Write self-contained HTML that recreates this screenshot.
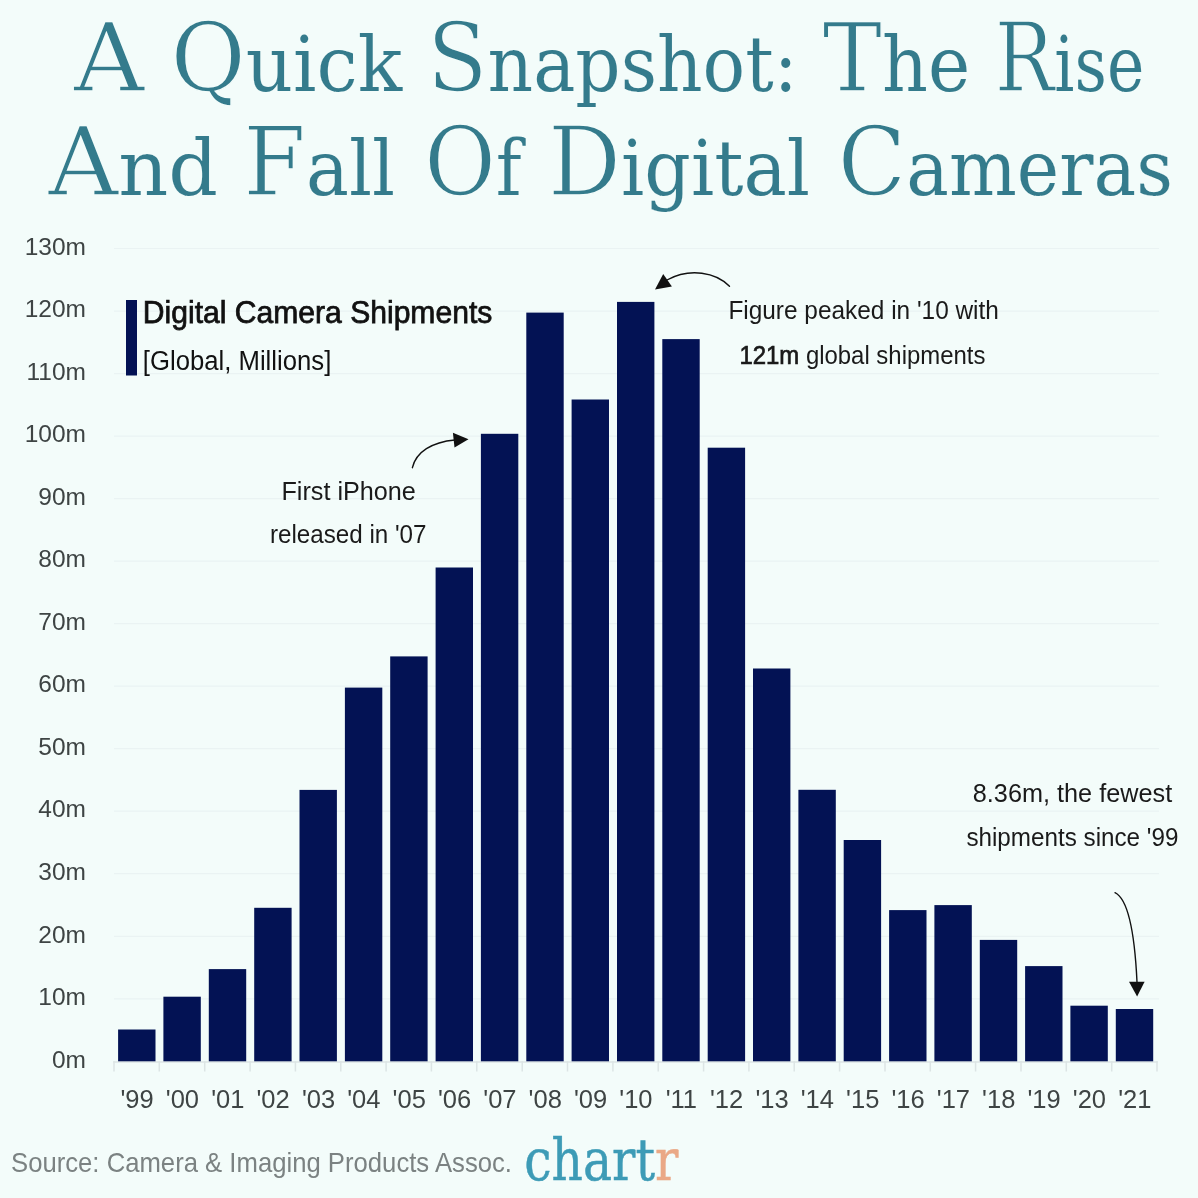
<!DOCTYPE html>
<html lang="en">
<head>
<meta charset="utf-8">
<title>A Quick Snapshot: The Rise And Fall Of Digital Cameras</title>
<style>
html,body{margin:0;padding:0;background:#f3fcfa;}
body{width:1198px;height:1198px;overflow:hidden;}
svg{display:block;}
.sans{font-family:"Liberation Sans",sans-serif;}
.serif{font-family:"Liberation Serif",serif;}
</style>
</head>
<body>
<svg width="1198" height="1198" viewBox="0 0 1198 1198">
<rect width="1198" height="1198" fill="#f3fcfa"/>
<g stroke="#eaf3f3" stroke-width="1.2">
<line x1="114" x2="1159" y1="998.8" y2="998.8"/>
<line x1="114" x2="1159" y1="936.3" y2="936.3"/>
<line x1="114" x2="1159" y1="873.7" y2="873.7"/>
<line x1="114" x2="1159" y1="811.2" y2="811.2"/>
<line x1="114" x2="1159" y1="748.7" y2="748.7"/>
<line x1="114" x2="1159" y1="686.2" y2="686.2"/>
<line x1="114" x2="1159" y1="623.7" y2="623.7"/>
<line x1="114" x2="1159" y1="561.1" y2="561.1"/>
<line x1="114" x2="1159" y1="498.6" y2="498.6"/>
<line x1="114" x2="1159" y1="436.1" y2="436.1"/>
<line x1="114" x2="1159" y1="373.6" y2="373.6"/>
<line x1="114" x2="1159" y1="311.1" y2="311.1"/>
<line x1="114" x2="1159" y1="248.5" y2="248.5"/>
</g>
<g stroke="#dce5e5" stroke-width="1.5">
<line x1="113.2" x2="1157.8" y1="1062.1" y2="1062.1"/>
<line x1="114.0" x2="114.0" y1="1061.3" y2="1071.5"/>
<line x1="159.3" x2="159.3" y1="1061.3" y2="1071.5"/>
<line x1="204.7" x2="204.7" y1="1061.3" y2="1071.5"/>
<line x1="250.1" x2="250.1" y1="1061.3" y2="1071.5"/>
<line x1="295.4" x2="295.4" y1="1061.3" y2="1071.5"/>
<line x1="340.8" x2="340.8" y1="1061.3" y2="1071.5"/>
<line x1="386.1" x2="386.1" y1="1061.3" y2="1071.5"/>
<line x1="431.4" x2="431.4" y1="1061.3" y2="1071.5"/>
<line x1="476.8" x2="476.8" y1="1061.3" y2="1071.5"/>
<line x1="522.2" x2="522.2" y1="1061.3" y2="1071.5"/>
<line x1="567.5" x2="567.5" y1="1061.3" y2="1071.5"/>
<line x1="612.9" x2="612.9" y1="1061.3" y2="1071.5"/>
<line x1="658.2" x2="658.2" y1="1061.3" y2="1071.5"/>
<line x1="703.6" x2="703.6" y1="1061.3" y2="1071.5"/>
<line x1="748.9" x2="748.9" y1="1061.3" y2="1071.5"/>
<line x1="794.2" x2="794.2" y1="1061.3" y2="1071.5"/>
<line x1="839.6" x2="839.6" y1="1061.3" y2="1071.5"/>
<line x1="885.0" x2="885.0" y1="1061.3" y2="1071.5"/>
<line x1="930.3" x2="930.3" y1="1061.3" y2="1071.5"/>
<line x1="975.6" x2="975.6" y1="1061.3" y2="1071.5"/>
<line x1="1021.0" x2="1021.0" y1="1061.3" y2="1071.5"/>
<line x1="1066.3" x2="1066.3" y1="1061.3" y2="1071.5"/>
<line x1="1111.7" x2="1111.7" y1="1061.3" y2="1071.5"/>
<line x1="1157.0" x2="1157.0" y1="1061.3" y2="1071.5"/>
</g>
<g fill="#031254">
<rect x="118.1" y="1029.5" width="37.4" height="31.8"/>
<rect x="163.4" y="996.7" width="37.4" height="64.6"/>
<rect x="208.8" y="969.1" width="37.4" height="92.2"/>
<rect x="254.2" y="907.8" width="37.4" height="153.5"/>
<rect x="299.5" y="789.9" width="37.4" height="271.4"/>
<rect x="344.9" y="687.6" width="37.4" height="373.7"/>
<rect x="390.2" y="656.4" width="37.4" height="404.9"/>
<rect x="435.6" y="567.5" width="37.4" height="493.8"/>
<rect x="480.9" y="433.8" width="37.4" height="627.5"/>
<rect x="526.3" y="312.6" width="37.4" height="748.7"/>
<rect x="571.6" y="399.5" width="37.4" height="661.8"/>
<rect x="617.0" y="301.9" width="37.4" height="759.4"/>
<rect x="662.3" y="339.1" width="37.4" height="722.2"/>
<rect x="707.7" y="447.7" width="37.4" height="613.6"/>
<rect x="753.0" y="668.5" width="37.4" height="392.8"/>
<rect x="798.4" y="789.8" width="37.4" height="271.5"/>
<rect x="843.7" y="840.0" width="37.4" height="221.3"/>
<rect x="889.1" y="910.1" width="37.4" height="151.2"/>
<rect x="934.4" y="905.1" width="37.4" height="156.2"/>
<rect x="979.8" y="939.9" width="37.4" height="121.4"/>
<rect x="1025.1" y="966.1" width="37.4" height="95.2"/>
<rect x="1070.4" y="1005.7" width="37.4" height="55.6"/>
<rect x="1115.8" y="1009.0" width="37.4" height="52.3"/>
</g>
<g class="sans" font-size="24.5" fill="#3e4444" text-anchor="end">
<text x="86" y="1067.5">0m</text>
<text x="86" y="1005.0">10m</text>
<text x="86" y="942.5">20m</text>
<text x="86" y="879.9">30m</text>
<text x="86" y="817.4">40m</text>
<text x="86" y="754.9">50m</text>
<text x="86" y="692.4">60m</text>
<text x="86" y="629.9">70m</text>
<text x="86" y="567.3">80m</text>
<text x="86" y="504.8">90m</text>
<text x="86" y="442.3">100m</text>
<text x="86" y="379.8">110m</text>
<text x="86" y="317.3">120m</text>
<text x="86" y="254.7">130m</text>
</g>
<g class="sans" font-size="25.5" fill="#3e4444" text-anchor="middle">
<text x="137.1" y="1107.7">'99</text>
<text x="182.4" y="1107.7">'00</text>
<text x="227.8" y="1107.7">'01</text>
<text x="273.1" y="1107.7">'02</text>
<text x="318.5" y="1107.7">'03</text>
<text x="363.8" y="1107.7">'04</text>
<text x="409.2" y="1107.7">'05</text>
<text x="454.5" y="1107.7">'06</text>
<text x="499.9" y="1107.7">'07</text>
<text x="545.2" y="1107.7">'08</text>
<text x="590.6" y="1107.7">'09</text>
<text x="635.9" y="1107.7">'10</text>
<text x="681.3" y="1107.7">'11</text>
<text x="726.6" y="1107.7">'12</text>
<text x="772.0" y="1107.7">'13</text>
<text x="817.3" y="1107.7">'14</text>
<text x="862.7" y="1107.7">'15</text>
<text x="908.0" y="1107.7">'16</text>
<text x="953.4" y="1107.7">'17</text>
<text x="998.7" y="1107.7">'18</text>
<text x="1044.1" y="1107.7">'19</text>
<text x="1089.4" y="1107.7">'20</text>
<text x="1134.8" y="1107.7">'21</text>
</g>
<g font-family="DejaVu Serif, serif" font-size="76" fill="#347b8c" stroke="#f3fcfa" stroke-width="0.1">
<text x="73.8" y="91.4" textLength="70.6" lengthAdjust="spacingAndGlyphs"><tspan font-size="95" stroke-width="1.5">A</tspan></text>
<text x="170.4" y="91.4" textLength="231.8" lengthAdjust="spacingAndGlyphs"><tspan font-size="95" stroke-width="1.5">Q</tspan>uick</text>
<text x="426.9" y="91.4" textLength="370.6" lengthAdjust="spacingAndGlyphs"><tspan font-size="95" stroke-width="1.5">S</tspan>napshot:</text>
<text x="822.4" y="91.4" textLength="147.8" lengthAdjust="spacingAndGlyphs"><tspan font-size="95" stroke-width="1.5">T</tspan>he</text>
<text x="994.8" y="91.4" textLength="149.5" lengthAdjust="spacingAndGlyphs"><tspan font-size="95" stroke-width="1.5">R</tspan>ise</text>
<text x="48.2" y="194.8" textLength="169.9" lengthAdjust="spacingAndGlyphs"><tspan font-size="95" stroke-width="1.5">A</tspan>nd</text>
<text x="243.3" y="194.8" textLength="151.8" lengthAdjust="spacingAndGlyphs"><tspan font-size="95" stroke-width="1.5">F</tspan>all</text>
<text x="424.2" y="194.8" textLength="97.4" lengthAdjust="spacingAndGlyphs"><tspan font-size="95" stroke-width="1.5">O</tspan>f</text>
<text x="548.1" y="194.8" textLength="262.0" lengthAdjust="spacingAndGlyphs"><tspan font-size="95" stroke-width="1.5">D</tspan>igital</text>
<text x="837.7" y="194.8" textLength="335.2" lengthAdjust="spacingAndGlyphs"><tspan font-size="95" stroke-width="1.5">C</tspan>ameras</text>
</g>
<rect x="126" y="300" width="11" height="75.5" fill="#031254"/>
<g class="sans" fill="#111">
<text x="142.8" y="323.4" font-size="30.5" stroke="#111" stroke-width="0.75" textLength="349.5" lengthAdjust="spacingAndGlyphs">Digital Camera Shipments</text>
<text x="142.8" y="370" font-size="27" textLength="188.5" lengthAdjust="spacingAndGlyphs">[Global, Millions]</text>
</g>
<g class="sans" fill="#1a1a1a" font-size="25.5">
<text x="728.4" y="319.4" textLength="270.5" lengthAdjust="spacingAndGlyphs">Figure peaked in '10 with</text>
<text x="739.4" y="363.5" textLength="246" lengthAdjust="spacingAndGlyphs"><tspan stroke="#1a1a1a" stroke-width="0.7">121m</tspan> global shipments</text>
<text x="281.4" y="500" textLength="134.5" lengthAdjust="spacingAndGlyphs">First iPhone</text>
<text x="270" y="543.2" textLength="156.5" lengthAdjust="spacingAndGlyphs">released in '07</text>
<text x="972.8" y="802.2" textLength="199.4" lengthAdjust="spacingAndGlyphs">8.36m, the fewest</text>
<text x="966.4" y="846" textLength="212" lengthAdjust="spacingAndGlyphs">shipments since '99</text>
</g>
<g fill="none" stroke="#111" stroke-width="1.4" stroke-linecap="round">
<path d="M729.5 286.3 C716 272.5 690 267.5 667 280"/>
<path d="M412.4 467.7 C416 452 432 442 455 440"/>
<path d="M1115 892.7 C1130 900 1135 940 1137 982"/>
</g>
<g fill="#111">
<polygon points="655,289.4 663.2,274 671.9,286.6"/>
<polygon points="468.5,439.2 452.9,432.7 454.5,447.4"/>
<polygon points="1137.1,996.4 1129,981.7 1144.6,981.7"/>
</g>
<text class="sans" x="11" y="1172.4" font-size="28" fill="#7b8282" textLength="501" lengthAdjust="spacingAndGlyphs">Source: Camera &amp; Imaging Products Assoc.</text>
<text font-family="DejaVu Serif, serif" x="524.3" y="1180" font-size="58" fill="#3d9bb6" stroke="#3d9bb6" stroke-width="0.5" textLength="154" lengthAdjust="spacingAndGlyphs">chart<tspan fill="#eaa886" stroke="#eaa886">r</tspan></text>
</svg>
</body>
</html>
